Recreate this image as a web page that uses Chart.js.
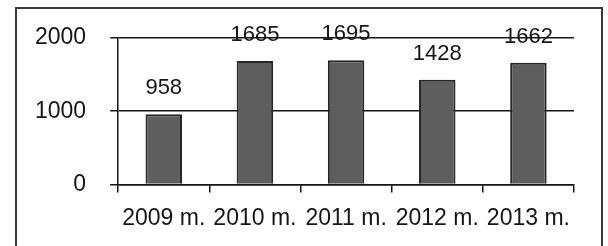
<!DOCTYPE html>
<html>
<head>
<meta charset="utf-8">
<script src="https://cdn.jsdelivr.net/npm/chart.js@4"></script>
<style>
    html, body { margin: 0; padding: 0; background: #fff; }
    #wrap { position: relative; width: 608px; height: 246px; }
    #frame { position: absolute; left: 15px; top: 7px; width: 588px; height: 250px; border: 2px solid #3a3a3a; box-sizing: border-box; }
    canvas { position: absolute; left: 0; top: 0; }
</style>
</head>
<body>
<div id="wrap">
    <div id="frame"></div>
    <canvas id="chart" width="608" height="246"></canvas>
</div>
<script>
    // Chart data
    const years = ['2009 m.', '2010 m.', '2011 m.', '2012 m.', '2013 m.'];
    const counts = [958, 1685, 1695, 1428, 1662];
    const yTicks = [0, 1000, 2000];

    const FONT = '"Liberation Sans", Arial, sans-serif';
    const INK = '#151515';

    // Draw the value above each bar
    const valueLabels = {
        id: 'valueLabels',
        afterDatasetsDraw(chart) {
            const ctx = chart.ctx;
            const meta = chart.getDatasetMeta(0);
            ctx.save();
            ctx.font = '22px ' + FONT;
            ctx.fillStyle = INK;
            ctx.textAlign = 'center';
            ctx.textBaseline = 'bottom';
            meta.data.forEach(function (bar, i) {
                ctx.fillText(String(counts[i]), bar.x, bar.y - 15);
            });
            ctx.restore();
        }
    };

    const ctx = document.getElementById('chart').getContext('2d');
    new Chart(ctx, {
        type: 'bar',
        data: {
            labels: years,
            datasets: [{
                data: counts,
                backgroundColor: '#5e5e5e',
                borderColor: '#262626',
                borderWidth: 2,
                categoryPercentage: 1,
                barPercentage: 0.4
            }]
        },
        options: {
            responsive: false,
            animation: false,
            layout: { padding: { left: 11, right: 34, top: 38, bottom: 2 } },
            plugins: { legend: { display: false }, tooltip: { enabled: false } },
            scales: {
                x: {
                    grid: { offset: true, drawOnChartArea: false, color: INK, tickLength: 8, lineWidth: 1.5 },
                    border: { color: INK, width: 1.5 },
                    ticks: { color: INK, font: { family: FONT, size: 23 }, padding: 12, maxRotation: 0, autoSkip: false }
                },
                y: {
                    min: 0,
                    max: 2000,
                    afterBuildTicks: function (axis) {
                        axis.ticks = yTicks.map(v => ({ value: v }));
                    },
                    grid: { color: INK, lineWidth: 1.5, tickLength: 8 },
                    border: { color: INK, width: 1.5 },
                    ticks: { color: INK, font: { family: FONT, size: 23 }, padding: 24, callback: v => String(v) }
                }
            }
        },
        plugins: [valueLabels]
    });
</script>
</body>
</html>
